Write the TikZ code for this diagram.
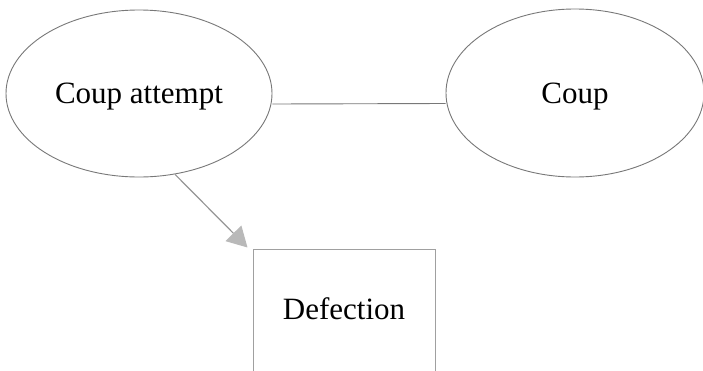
\documentclass[tikz,border=0pt]{standalone}
\usepackage{fontspec}
\setmainfont{Liberation Serif}
\usetikzlibrary{shapes.geometric,arrows.meta}
\definecolor{edgegray}{RGB}{120,120,120}
\definecolor{boxgray}{RGB}{160,160,160}
\definecolor{arrowgray}{RGB}{150,150,150}
\definecolor{headgray}{RGB}{185,185,185}
\tikzset{
  oval/.style={ellipse, draw=edgegray, line width=0.9pt, inner sep=0pt,
    font=\fontsize{31}{36}\selectfont, text height=22pt, text depth=2pt},
  box/.style={rectangle, draw=boxgray, line width=1pt, inner sep=0pt,
    font=\fontsize{31}{36}\selectfont, text height=10pt, text depth=0pt},
  link/.style={draw=edgegray, line width=0.9pt},
  causal/.style={draw=arrowgray, line width=1.2pt,
    -{Triangle[length=20pt,width=22pt,color=headgray,fill=headgray]}}
}
\begin{document}
\begin{tikzpicture}[x=1pt,y=-1pt]
  \useasboundingbox (0,0) rectangle (703,370);
  \clip (0,0) rectangle (703,370);
  \fill[white] (0,0) rectangle (703,370);
  \node[oval, minimum width=266pt, minimum height=167pt] (attempt) at (139,93.5) {Coup attempt};
  \node[oval, minimum width=258pt, minimum height=168pt] (coup) at (575,93) {Coup};
  \node[box, minimum width=182pt, minimum height=130pt] (defect) at (344,314) {Defection};
  \draw[link] ([yshift=-10.5pt]attempt.east) -- ([yshift=-10.5pt]coup.west);
  \draw[causal] (attempt.-66.7) -- ([xshift=-5pt,yshift=1pt]defect.north west);
\end{tikzpicture}
\end{document}
